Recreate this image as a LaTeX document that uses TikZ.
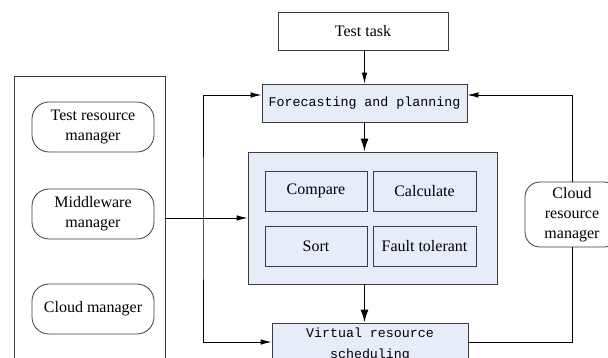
\documentclass[tikz,border=0pt]{standalone}
\usepackage{fontspec}
\setmainfont{Liberation Serif}
\setmonofont{Liberation Mono}
\usetikzlibrary{arrows.meta}
\definecolor{planblue}{RGB}{230,236,248}
\definecolor{linegray}{RGB}{60,60,60}
\tikzset{
	box/.style={draw=linegray, line width=0.8pt, inner sep=0pt, align=center, font=\fontsize{16}{20}\selectfont},
	bluebox/.style={box, fill=planblue},
	monobox/.style={bluebox, font=\fontsize{13.3}{21}\selectfont\ttfamily},
	mgrbox/.style={box, rounded corners=17pt, minimum width=122pt, minimum height=50pt},
	thinarr/.style={>={Latex[length=11pt,width=5.5pt]}},
	bigarr/.style={line width=1.8pt, -{Latex[length=13pt,width=8pt]}}
}
\begin{document}
\begin{tikzpicture}[x=1pt, y=-1pt, line width=0.8pt, thinarr]
	\clip (0,0) rectangle (608,358);
	\node[box, minimum width=170pt, minimum height=38pt] (task) at (363,31) {Test task};
	\node[monobox, minimum width=205pt, minimum height=38pt] (plan) at (364.5,103) {Forecasting and planning};
	\node[bluebox, minimum width=249pt, minimum height=132pt] (core) at (372.5,218) {};
	\node[bluebox, minimum width=102pt, minimum height=40pt] (cmp) at (316,191) {Compare};
	\node[bluebox, minimum width=103pt, minimum height=40pt] (calc) at (424.5,191) {Calculate};
	\node[bluebox, minimum width=102pt, minimum height=40pt] (sort) at (316,246) {Sort};
	\node[bluebox, minimum width=103pt, minimum height=40pt] (fault) at (424.5,246) {Fault tolerant};
	\node[monobox, minimum width=196pt, minimum height=43pt] (virt) at (370,344.5) {Virtual resource\\scheduling};
	\node[box, minimum width=151pt, minimum height=344pt] (panel) at (89.5,248) {};
	\node[mgrbox] (trm) at (93,127) {Test resource\\manager};
	\node[mgrbox] (mwm) at (93,214) {Middleware\\manager};
	\node[mgrbox] (cm) at (93,309) {Cloud manager};
	\node[box, rounded corners=15pt, minimum width=94pt, minimum height=65pt] (crm) at (572,214.5) {Cloud\\resource\\manager};
	\coordinate (up) at (0,95);
	\coordinate (down) at (0,342);
	\coordinate (fb) at (203,0);
	\draw[->] (task.south -| plan) -- (plan.north);
	\draw[bigarr] (plan.south) -- (core.north -| plan);
	\draw[bigarr] (core.south -| plan) -- (virt.north -| plan);
	\draw[<->] (plan.west |- up) -| (fb |- core) |- (virt.west |- down);
	\draw[->] (panel.east |- core) -- (core.west);
	\draw[->] (crm.north) |- (plan.east |- up);
	\draw (crm.south) |- (virt.east |- down);
\end{tikzpicture}
\end{document}
